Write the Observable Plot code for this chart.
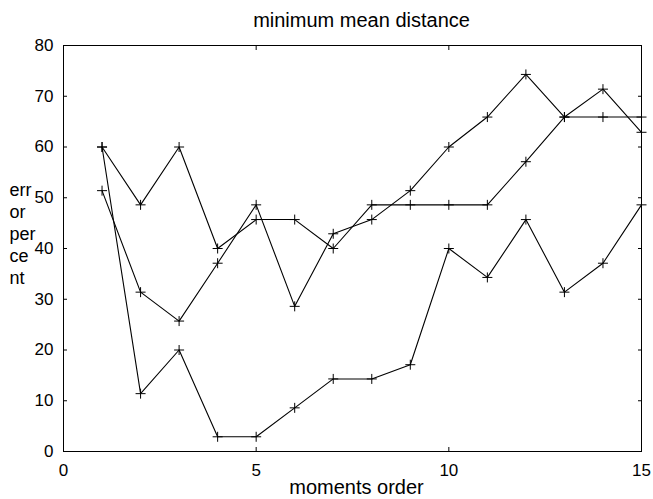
<!DOCTYPE html>
<html><head><meta charset="utf-8">
<script src="https://cdn.jsdelivr.net/npm/d3@7"></script>
<script src="https://cdn.jsdelivr.net/npm/@observablehq/plot@0.6"></script>
<style>html,body{margin:0;padding:0;background:#fff;} #chart svg{display:block}</style>
</head><body><div id="chart"></div>
<script>
const orders = [1, 2, 3, 4, 5, 6, 7, 8, 9, 10, 11, 12, 13, 14, 15];
const seriesA = [60, 48.6, 60, 40, 45.7, 45.7, 40, 48.6, 48.6, 48.6, 48.6, 57.1, 65.9, 65.9, 65.9];
const seriesB = [51.4, 31.4, 25.7, 37.1, 48.6, 28.6, 42.9, 45.7, 51.4, 60, 65.9, 74.3, 65.9, 71.4, 62.9];
const seriesC = [60, 11.4, 20, 2.9, 2.9, 8.6, 14.3, 14.3, 17.1, 40, 34.3, 45.7, 31.4, 37.1, 48.6];
const xTicks = [0, 5, 10, 15];
const yTicks = [0, 10, 20, 30, 40, 50, 60, 70, 80];
const titleText = "minimum mean distance";
const xLabel = "moments order";
const yLabel = ["err", "or", "per", "ce", "nt"];

const rows = [];
[["A", seriesA], ["B", seriesB], ["C", seriesC]].forEach(([name, vals]) =>
  vals.forEach((v, i) => rows.push({series: name, order: orders[i], value: v})));

const plusSymbol = {draw(context, size) {
  const r = Math.sqrt(size / Math.PI);
  context.moveTo(-r, 0); context.lineTo(r, 0);
  context.moveTo(0, -r); context.lineTo(0, r);
}};

const font = "'Liberation Sans', Arial, Helvetica, sans-serif";
const plot = Plot.plot({
  width: 653, height: 499,
  marginLeft: 63, marginRight: 12, marginTop: 45, marginBottom: 48,
  style: {fontFamily: font, background: "white", color: "black", overflow: "visible"},
  x: {domain: [0, 15], ticks: xTicks},
  y: {domain: [0, 80], ticks: yTicks},
  marks: [
    Plot.frame({stroke: "black"}),
    Plot.axisX(xTicks, {anchor: "bottom", tickSize: 0, tickPadding: 12, fontSize: 17, label: null}),
    Plot.axisX(xTicks, {anchor: "bottom", tickSize: -4, tickFormat: () => "", label: null}),
    Plot.axisX(xTicks, {anchor: "top", tickSize: -4, tickFormat: () => "", label: null}),
    Plot.axisY(yTicks, {anchor: "left", tickSize: 0, tickPadding: 10, fontSize: 17, label: null}),
    Plot.axisY(yTicks, {anchor: "left", tickSize: -4, tickFormat: () => "", label: null}),
    Plot.axisY(yTicks, {anchor: "right", tickSize: -4, tickFormat: () => "", label: null}),
    Plot.line(rows, {x: "order", y: "value", z: "series", stroke: "black", strokeWidth: 1.1}),
    Plot.dot(rows, {x: "order", y: "value", symbol: plusSymbol, r: 5, stroke: "black", fill: "none", strokeWidth: 1}),
    Plot.text([titleText], {frameAnchor: "top", text: d => d, dx: 9, dy: -25, fontSize: 20, lineAnchor: "middle"}),
    Plot.text([xLabel], {frameAnchor: "bottom", text: d => d, dx: 4, dy: 36, fontSize: 20, lineAnchor: "middle"}),
    Plot.text([yLabel.join("\n")], {frameAnchor: "top-left", text: d => d, dx: -54, dy: 135, fontSize: 18, lineHeight: 1.222, textAnchor: "start", lineAnchor: "top"})
  ]
});
document.getElementById("chart").appendChild(plot);
</script></body></html>
